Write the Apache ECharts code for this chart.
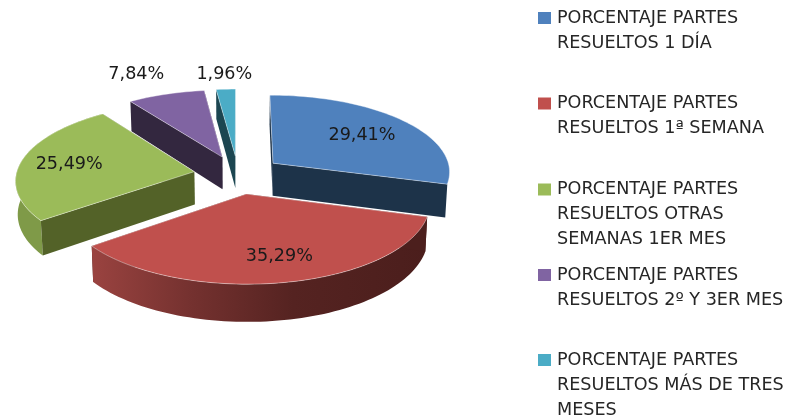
<!DOCTYPE html>
<html><head><meta charset="utf-8">
<style>html,body{margin:0;padding:0;background:#fff}#c{width:789px;height:419px}</style>
<script src="https://cdn.jsdelivr.net/npm/echarts@6/dist/echarts.min.js"></script>
</head><body><div id="c"></div>
<script>
var categories = ['PORCENTAJE PARTES\nRESUELTOS 1 DÍA','PORCENTAJE PARTES\nRESUELTOS 1ª SEMANA','PORCENTAJE PARTES\nRESUELTOS OTRAS\nSEMANAS 1ER MES','PORCENTAJE PARTES\nRESUELTOS 2º Y 3ER MES','PORCENTAJE PARTES\nRESUELTOS MÁS DE TRES\nMESES'];
var percentages = [29.41, 35.29, 25.49, 7.84, 1.96];
var topColors = ['#4f81bd','#c0504d','#9bbb59','#8064a2','#4bacc6'];
var wallColors = ['#1d3349','#4c1f1d','#536228','#33273f','#1c4651'];
var labelOffsets = [[89,-28],[33,62],[-125,-7],[-86,-83],[-11,-81]];
var legendTops = [5.5,91,177,262.5,347.5];
var drawOrder = [4,3,2,0,1];
var rimVisible = [false,true,true,false,false];

var CX=238, CY=174.6, RX=178, RY=77, PERSP=0.1, EXPLODE=0.25, DEPTH=33, BOTTOM_SCALE=0.99, FONT='DejaVu Sans';
var total = percentages.reduce(function(a,b){return a+b;},0);
function polar(a){return [Math.sin(a),-Math.cos(a)];}
function proj(u,v){var s=1/(1-PERSP*v);return [CX+RX*u*s,CY+RY*v*s,s];}

function renderSlice(idx){
  return function(params,api){
    var before=0; for(var i=0;i<idx;i++) before+=percentages[i];
    var a0=before/total*2*Math.PI, a1=(before+api.value(0))/total*2*Math.PI, am=(a0+a1)/2;
    var m=polar(am), eu=m[0]*EXPLODE, ev=m[1]*EXPLODE;
    var apex=proj(eu,ev), ax=apex[0], ay=apex[1];
    var arc=[], n=Math.max(4,Math.ceil((a1-a0)/0.03));
    for(var k=0;k<=n;k++){var p=polar(a0+(a1-a0)*k/n);arc.push(proj(eu+p[0],ev+p[1]));}
    function down(pt){return [CX+(pt[0]-CX)*BOTTOM_SCALE,pt[1]+DEPTH*pt[2]];}
    function xy(pt){return [pt[0],pt[1]];}
    var first=arc[0], last=arc[n];
    var wall={fill:wallColors[idx]};
    var rimFill=wallColors[idx];
    if(idx===1) rimFill=new echarts.graphic.LinearGradient(0,0,1,0,[{offset:0,color:'#9a4340'},{offset:.3,color:'#74312f'},{offset:.6,color:'#552321'},{offset:1,color:'#4b1e1c'}]);
    if(idx===2) rimFill='#7f9a48';
    var rimPts=arc.map(xy).concat(arc.slice().reverse().map(down));
    var kids=[
      {type:'polygon',shape:{points:[xy(last),xy(apex),down(apex),down(last)]},style:wall}
    ];
    if(rimVisible[idx]) kids.push({type:'polygon',shape:{points:rimPts},style:{fill:rimFill}});
    kids.push(
      {type:'polygon',shape:{points:[xy(first),xy(apex),down(apex),down(first)]},style:wall},
      {type:'polygon',shape:{points:[xy(apex)].concat(arc.map(xy))},style:{fill:topColors[idx],stroke:'rgba(255,255,255,0.4)',lineWidth:1}},
      {type:'text',z2:10,style:{text:percentages[idx].toFixed(2).replace('.',',')+'%',x:ax+labelOffsets[idx][0],y:ay+labelOffsets[idx][1],align:'center',verticalAlign:'middle',fill:'#1a1a1a',font:'17.6px "'+FONT+'"'}}
    );
    return {type:'group',children:kids};
  };
}
var series=drawOrder.map(function(i){
  return {type:'custom',name:categories[i],coordinateSystem:'none',silent:true,animation:false,itemStyle:{color:topColors[i]},data:[[percentages[i]]],renderItem:renderSlice(i)};
});
var legends=categories.map(function(name,i){
  var lines=name.split('\n').length, H=lines*25;
  return {left:538,top:legendTops[i],orient:'vertical',padding:0,itemWidth:14,itemHeight:H,selectedMode:false,
    textStyle:{fontFamily:FONT,fontSize:17.6,color:'#262626',lineHeight:25},
    data:[{name:name,itemStyle:{color:topColors[i]},icon:'path://M0 0L0 0M14 '+H+'L14 '+H+'M0 6.5L13 6.5L13 18.5L0 18.5Z'}]};
});
var chart=echarts.init(document.getElementById('c'),null,{renderer:'canvas'});
chart.setOption({animation:false,backgroundColor:'#fff',legend:legends,series:series});
</script></body></html>
